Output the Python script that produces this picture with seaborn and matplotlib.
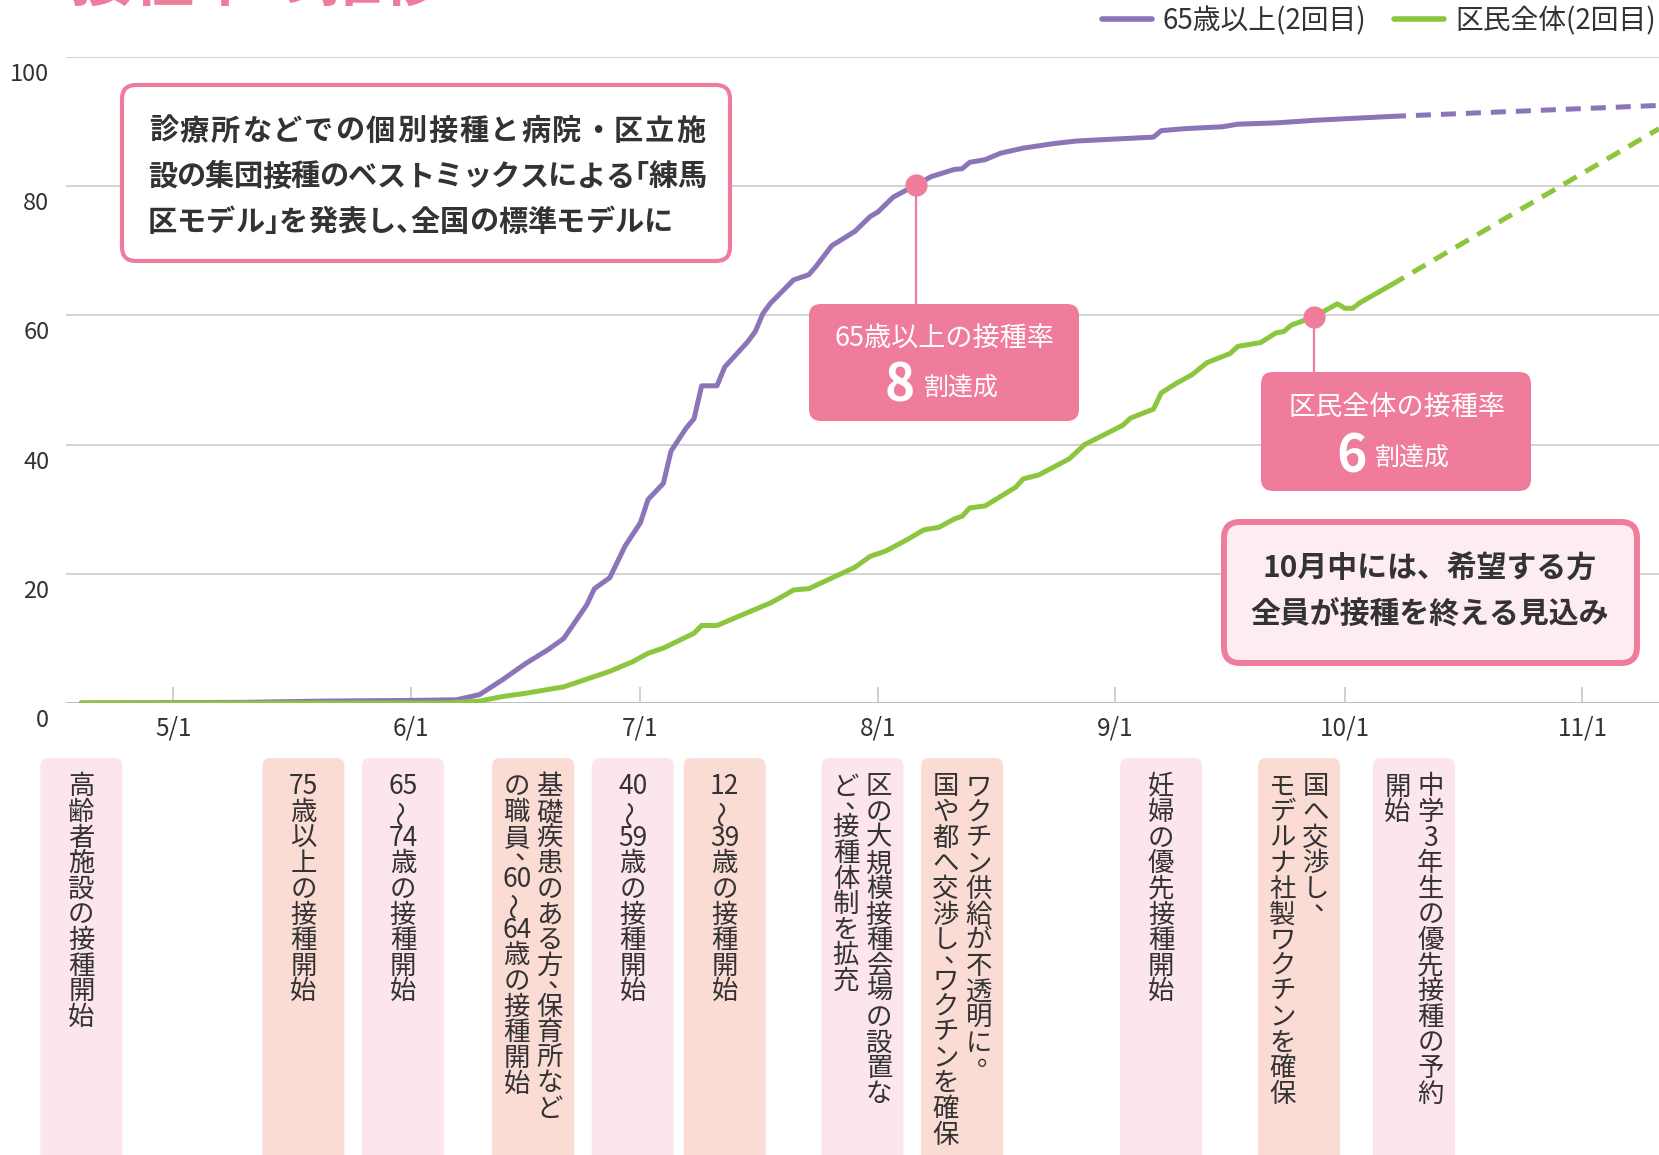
import re
import pandas as pd
import matplotlib
matplotlib.use("Agg")
import matplotlib.pyplot as plt
import matplotlib.dates as mdates
import matplotlib.transforms as mtransforms
from matplotlib.patches import FancyBboxPatch
import seaborn as sns

# ---- data ----
elderly_dates = ["04-19", "05-10", "05-21", "06-01", "06-07", "06-10", "06-13", "06-16",
                 "06-19", "06-21", "06-24", "06-25", "06-27", "06-29", "07-01", "07-02",
                 "07-04", "07-05", "07-07", "07-08", "07-09", "07-11", "07-12", "07-15",
                 "07-16", "07-17", "07-18", "07-21", "07-23", "07-24", "07-26", "07-29",
                 "07-31", "08-01", "08-03", "08-06", "08-08", "08-11", "08-12", "08-13",
                 "08-15", "08-17", "08-20", "08-24", "08-27", "09-01", "09-06", "09-07",
                 "09-10", "09-15", "09-17", "09-22", "09-27", "10-02", "10-07"]
elderly_rate = [0, 0.1, 0.3, 0.4, 0.5, 1.3, 3.6, 6.1,
                8.3, 10.0, 15.2, 17.7, 19.4, 24.3, 27.9, 31.5,
                34.0, 39.0, 42.6, 44.0, 49.1, 49.1, 52.0, 55.9,
                57.5, 60.3, 61.9, 65.5, 66.3, 67.7, 70.8, 73.0,
                75.3, 76.0, 78.3, 80.2, 81.5, 82.6, 82.7, 83.7,
                84.1, 85.1, 85.9, 86.6, 87.0, 87.3, 87.6, 88.6,
                88.9, 89.2, 89.6, 89.8, 90.2, 90.5, 90.8]

all_dates = ["04-19", "06-06", "06-10", "06-13", "06-16", "06-21", "06-25", "06-27",
             "06-30", "07-02", "07-04", "07-08", "07-09", "07-11", "07-14", "07-18",
             "07-20", "07-21", "07-23", "07-25", "07-29", "07-31", "08-02", "08-05",
             "08-07", "08-09", "08-11", "08-12", "08-13", "08-15", "08-19", "08-20",
             "08-22", "08-26", "08-28", "09-02", "09-03", "09-06", "09-07", "09-09",
             "09-11", "09-13", "09-16", "09-17", "09-20", "09-22", "09-23", "09-24",
             "09-27", "09-30", "10-01", "10-02", "10-03", "10-07"]
all_rate = [0, 0, 0.3, 1.0, 1.5, 2.5, 4.1, 4.9,
            6.4, 7.7, 8.5, 10.8, 12.0, 12.0, 13.5, 15.5,
            16.8, 17.5, 17.7, 18.8, 21.0, 22.7, 23.5, 25.4,
            26.8, 27.2, 28.5, 28.9, 30.2, 30.5, 33.4, 34.7,
            35.3, 37.8, 40.0, 43.0, 44.1, 45.5, 48.0, 49.5,
            50.8, 52.7, 54.1, 55.2, 55.8, 57.3, 57.5, 58.5,
            59.8, 61.8, 61.1, 61.1, 62.0, 64.7]

proj_end = "11-11"
elderly_proj = 92.5
all_proj = 88.9

month_ticks = ["05-01", "06-01", "07-01", "08-01", "09-01", "10-01", "11-01"]
month_labels = ["5/1", "6/1", "7/1", "8/1", "9/1", "10/1", "11/1"]
y_ticks = [0, 20, 40, 60, 80, 100]

event_dates = ["04-19", "05-18", "05-31", "06-17", "06-30", "07-12",
               "07-30", "08-12", "09-07", "09-25", "10-10"]
# columns listed right to left (vertical writing)
event_texts = [
    ["高齢者施設の接種開始"],
    ["75歳以上の接種開始"],
    ["65～74歳の接種開始"],
    ["基礎疾患のある方、保育所など", "の職員、60～64歳の接種開始"],
    ["40～59歳の接種開始"],
    ["12～39歳の接種開始"],
    ["区の大規模接種会場の設置な", "ど、接種体制を拡充"],
    ["ワクチン供給が不透明に。", "国や都へ交渉し、ワクチンを確保"],
    ["妊婦の優先接種開始"],
    ["国へ交渉し、", "モデルナ社製ワクチンを確保"],
    ["中学3年生の優先接種の予約", "開始"],
]

note_lines = ["診療所などでの個別接種と病院・区立施",
              "設の集団接種のベストミックスによる「練馬",
              "区モデル」を発表し、全国の標準モデルに"]

PURPLE = "#8b74b8"
GREEN = "#8cc63f"
PINK = "#f07c9b"
TXT = "#333333"
W, H = 1659, 1155


def d(s):
    return pd.Timestamp("2021-" + s)


sns.set_theme(style="white")
plt.rcParams["font.family"] = ["Noto Sans CJK JP", "DejaVu Sans"]

fig = plt.figure(figsize=(W / 100, H / 100), dpi=100)
ax = fig.add_axes([66 / W, (H - 703) / H, (W - 66) / W, 646 / H])

df_e = pd.DataFrame({"date": [d(s) for s in elderly_dates], "rate": elderly_rate})
df_a = pd.DataFrame({"date": [d(s) for s in all_dates], "rate": all_rate})

sns.lineplot(data=df_e, x="date", y="rate", color=PURPLE, lw=3.6, ax=ax,
             label="65歳以上(2回目)", zorder=3)
sns.lineplot(data=df_a, x="date", y="rate", color=GREEN, lw=3.6, ax=ax,
             label="区民全体(2回目)", zorder=3)
ax.plot([df_e.date.iloc[-1], d(proj_end)], [elderly_rate[-1], elderly_proj],
        color=PURPLE, lw=3.6, ls=(0, (3, 2)), zorder=3)
ax.plot([df_a.date.iloc[-1], d(proj_end)], [all_rate[-1], all_proj],
        color=GREEN, lw=3.6, ls=(0, (3, 2)), zorder=3)

# milestone markers (points nearest 80% / 60%)
i80 = (df_e.rate - 80).abs().idxmin()
i60 = (df_a.rate - 60).abs().idxmin()
m80 = (df_e.date[i80], df_e.rate[i80])
m60 = (df_a.date[i60], df_a.rate[i60])
for px, py in (m80, m60):
    ax.plot([px], [py], "o", color=PINK, ms=15, zorder=5)

ax.set_xlim(d("04-17"), d(proj_end))
ax.set_ylim(0, 100)
for sp in ax.spines.values():
    sp.set_visible(False)
ax.set_xlabel("")
ax.set_ylabel("")
ax.legend_.remove()

ax.set_yticks(y_ticks)
ax.set_yticklabels([str(v) for v in y_ticks])
ax.grid(axis="y", color="#cccccc", lw=1.2)
ax.axhline(0, color="#bbbbbb", lw=2, zorder=2)
ax.tick_params(axis="y", length=0, pad=12, labelsize=17, labelcolor=TXT)
shift = mtransforms.ScaledTranslation(0, -15 / 100, fig.dpi_scale_trans)
for lab in ax.get_yticklabels():
    lab.set_transform(lab.get_transform() + shift)

ax.set_xticks([d(s) for s in month_ticks])
ax.set_xticklabels(month_labels)
ax.tick_params(axis="x", direction="in", length=11.5, width=1.2, color="#c8c8c8",
               pad=9, labelsize=17.5, labelcolor=TXT, bottom=True)

handles = [plt.Line2D([], [], color=PURPLE, lw=4), plt.Line2D([], [], color=GREEN, lw=4)]
fig.legend(handles, ["65歳以上(2回目)", "区民全体(2回目)"], loc="center right",
           bbox_to_anchor=((W - 3) / W, 1 - 21 / H), ncol=2, frameon=False,
           fontsize=20, handlelength=1.8, handletextpad=0.4, columnspacing=1.0,
           borderpad=0, borderaxespad=0, labelcolor=TXT)

# ---- overlay in pixel coordinates for callouts ----
ov = fig.add_axes([0, 0, 1, 1], zorder=5)
ov.set_xlim(0, W)
ov.set_ylim(H, 0)
ov.axis("off")
ov.patch.set_alpha(0)


def to_px(x, y):
    px, py = ax.transData.transform((mdates.date2num(x), y))
    return px, H - py


def rbox(x0, y0, x1, y1, r, fc, ec="none", lw=0):
    ov.add_patch(FancyBboxPatch((x0, y0), x1 - x0, y1 - y0,
                                boxstyle=f"round,pad=0,rounding_size={r}",
                                fc=fc, ec=ec, lw=lw))


def jline(x0, y, s, fs, width=None, **kw):
    # Japanese line set char by char; brackets/commas take half a cell
    em = fs * 100 / 72
    units = [0.5 if c in "「」、" else 1.0 for c in s]
    cell = width / sum(units) if width else em
    x = x0
    for c, u in zip(s, units):
        w = u * cell
        if c == "「":
            cx = x + w - em / 2
        elif c in "」、":
            cx = x + em / 2
        else:
            cx = x + w / 2
        ov.text(cx, y, c, fontsize=fs, ha="center", va="center", **kw)
        x += w


# title (cut off at the top edge)
fig.text(70 / W, 1 - 0 / H, "接種率の推移", color=PINK, fontsize=45,
         fontweight="bold", ha="left", va="baseline")

# top-left note
rbox(122, 85, 730, 261, 14, "white", PINK, 3)
for k, line in enumerate(note_lines):
    jline(148, 131 + k * 45.5, line, 21, width=558 if k < 2 else None,
          fontweight="bold", color=TXT)

# 80% callout
mx, my = to_px(*m80)
ov.plot([mx, mx], [my, 304], color=PINK, lw=1.6, zorder=1)
rbox(809, 304, 1079, 421, 12, PINK)
ov.text(944, 339, "65歳以上の接種率", color="white", fontsize=19.5, ha="center", va="center")
ov.text(900, 386, "8", color="white", fontsize=37, fontweight="bold", ha="center", va="center")
ov.text(924, 388, "割達成", color="white", fontsize=18, ha="left", va="center")

# 60% callout
mx, my = to_px(*m60)
ov.plot([mx, mx], [my, 372], color=PINK, lw=1.6, zorder=1)
rbox(1261, 372, 1531, 491, 12, PINK)
ov.text(1397, 407, "区民全体の接種率", color="white", fontsize=19.5, ha="center", va="center")
ov.text(1352, 457, "6", color="white", fontsize=37, fontweight="bold", ha="center", va="center")
ov.text(1375, 458, "割達成", color="white", fontsize=18, ha="left", va="center")

# outlook box
rbox(1224, 522, 1637, 663, 16, "#fdecf1", PINK, 4.3)
ov.text(1430, 569, "10月中には、希望する方", fontsize=21.5, fontweight="bold", color=TXT,
        ha="center", va="center")
ov.text(1430, 615, "全員が接種を終える見込み", fontsize=21.5, fontweight="bold", color=TXT,
        ha="center", va="center")

# event columns with vertical text
STEP = 25.6
FS = 19
box_cols = ["#fce5eb", "#fadcd5"]
for n, (ed, cols) in enumerate(zip(event_dates, event_texts)):
    cx, _ = to_px(d(ed), 0)
    rbox(cx - 41, 758, cx + 41, 1200, 8, box_cols[n % 2])
    offsets = [0] if len(cols) == 1 else [16.5, -16.5]
    for col, off in zip(cols, offsets):
        y = 787
        for tok in re.findall(r"\d+|.", col):
            if tok in "、。":
                ov.text(cx + off + 0.45 * STEP, y - 0.45 * STEP, tok, fontsize=FS,
                        color=TXT, ha="center", va="center")
                y += 0.6 * STEP
                continue
            rot = 90 if tok == "～" else 0
            ov.text(cx + off, y, tok, fontsize=FS, color=TXT, ha="center",
                    va="center", rotation=rot)
            y += STEP

fig.savefig("out.png", dpi=100)
